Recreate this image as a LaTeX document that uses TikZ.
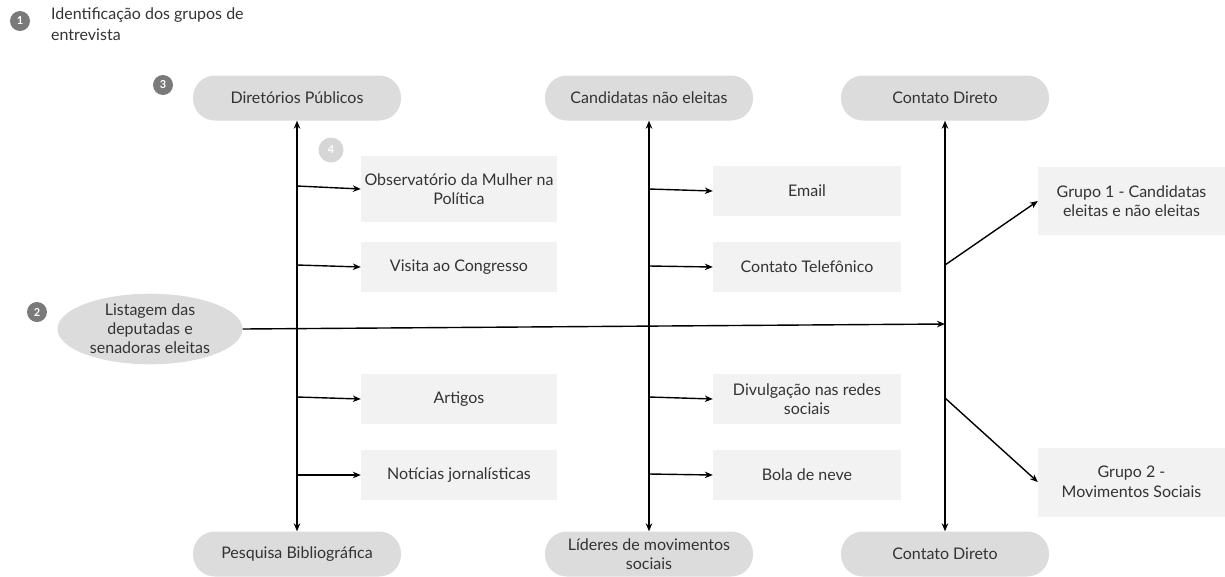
\documentclass[tikz,border=0pt]{standalone}
\usepackage{fontspec}
\setmainfont{Lato}
\usetikzlibrary{arrows.meta,shapes.geometric}
\definecolor{pillgray}{HTML}{DCDCDC}
\definecolor{boxgray}{HTML}{F2F2F2}
\definecolor{numgray}{HTML}{7A7A7A}
\definecolor{numlight}{HTML}{D6D6D6}
\definecolor{txt}{HTML}{333333}
\tikzset{
  pill/.style={draw=none, fill=pillgray, rounded corners=22pt, minimum width=208pt, minimum height=45pt, align=center, text=txt, font=\fontsize{16}{19}\selectfont, inner sep=2pt},
  boxnode/.style={draw=none, fill=boxgray, minimum width=196pt, minimum height=50pt, align=center, text=txt, font=\fontsize{16}{19.5}\selectfont, inner sep=2pt},
  numc/.style={circle, fill=numgray, minimum size=20pt, inner sep=0pt, text=white, font=\fontsize{11}{11}\selectfont\bfseries},
  arr/.style={-{Stealth[length=8pt,width=6.5pt]}, line width=1.4pt, black},
  darr/.style={{Stealth[length=8pt,width=6.5pt]}-{Stealth[length=8pt,width=6.5pt]}, line width=1.4pt, black},
}
\begin{document}
\begin{tikzpicture}[x=1pt,y=-1pt]
\useasboundingbox (0,0) rectangle (1225,576);
% title
\node[numc] (n1) at (20,21) {1};
\node[anchor=north west, align=left, text=txt, font=\fontsize{16}{21}\selectfont, inner sep=0pt] (title) at (51,8) {Identificação dos grupos de\\entrevista};
% top pills
\node[pill] (dp) at (297,98) {Diretórios Públicos};
\node[pill] (cne) at (649,98) {Candidatas não eleitas};
\node[pill] (cd1) at (945,98) {Contato Direto};
\node[numc] (n3) at (163,85) {3};
% bottom pills
\node[pill] (pb) at (297,554) {Pesquisa Bibliográfica};
\node[pill] (lms) at (649,554) {Líderes de movimentos\\sociais};
\node[pill] (cd2) at (945,554) {Contato Direto};
% number 4
\node[numc, fill=numlight, minimum size=25pt] (n4) at (331,150) {4};
% left boxes
\node[boxnode, minimum height=66pt] (obs) at (459,189) {Observatório da Mulher na\\Política};
\node[boxnode] (vis) at (459,267) {Visita ao Congresso};
\node[boxnode] (art) at (459,399) {Artigos};
\node[boxnode] (not) at (459,475) {Notícias jornalísticas};
% middle boxes
\node[boxnode, minimum width=188pt] (em) at (807,191) {Email};
\node[boxnode, minimum width=188pt] (tel) at (807,267) {Contato Telefônico};
\node[boxnode, minimum width=188pt] (div) at (807,399) {Divulgação nas redes\\sociais};
\node[boxnode, minimum width=188pt] (bol) at (807,475) {Bola de neve};
% right boxes
\node[boxnode, minimum width=187pt, minimum height=68pt] (g1) at (1131.5,201) {Grupo 1 - Candidatas\\eleitas e não eleitas};
\node[boxnode, minimum width=187pt, minimum height=69pt] (g2) at (1131.5,482) {Grupo 2 -\\Movimentos Sociais};
% ellipse
\node[ellipse, fill=pillgray, minimum width=185pt, minimum height=68pt, inner sep=0pt, align=center, text=txt, font=\fontsize{16}{19}\selectfont] (lst) at (150,329) {Listagem das\\deputadas e\\senadoras eleitas};
\node[numc] (n2) at (37,312) {2};
% vertical lines
\draw[darr] (dp.south) -- (pb.north);
\draw[darr] (cne.south) -- (lms.north);
\draw[darr] (cd1.south) -- (cd2.north);
% branch coordinates
\coordinate (l1) at (297,186);
\coordinate (l2) at (297,265);
\coordinate (l3) at (297,397);
\coordinate (l4) at (297,475);
\coordinate (m1) at (649,189);
\coordinate (m2) at (649,266);
\coordinate (m3) at (649,397);
\coordinate (m4) at (649,474);
\draw[arr] (l1) -- (obs.west);
\draw[arr] (l2) -- (vis.west);
\draw[arr] (l3) -- (art.west);
\draw[arr] (l4) -- (not.west);
\draw[arr] (m1) -- (em.west);
\draw[arr] (m2) -- (tel.west);
\draw[arr] (m3) -- (div.west);
\draw[arr] (m4) -- (bol.west);
% main horizontal
\coordinate (hit) at (945,324);
\draw[arr] (lst.east) -- (hit);
% group arrows
\coordinate (r1) at (945,265);
\coordinate (r2) at (945,398);
\draw[arr] (r1) -- (g1.west);
\draw[arr] (r2) -- (g2.west);
\end{tikzpicture}
\end{document}
